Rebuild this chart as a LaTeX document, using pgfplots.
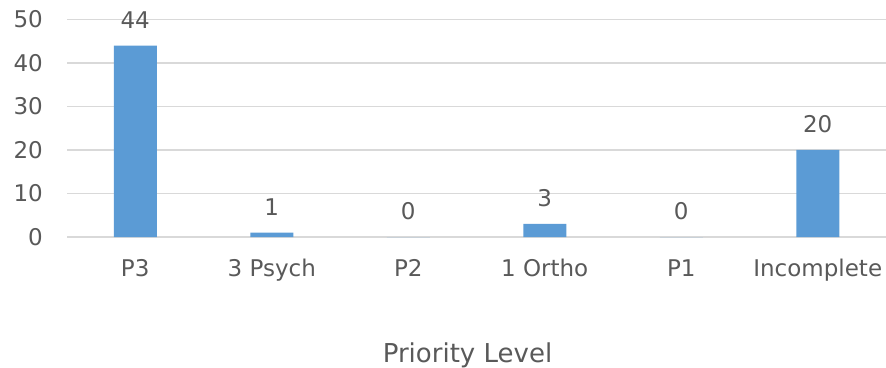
\documentclass[border=0pt]{standalone}
\usepackage{pgfplots}
\pgfplotsset{compat=1.18}
\usepackage{fontspec}
\setmainfont{DejaVu Sans}
\definecolor{barblue}{HTML}{5B9BD5}
\definecolor{gridgray}{HTML}{D9D9D9}
\definecolor{textgray}{HTML}{595959}
\begin{document}
\begin{tikzpicture}
\path[use as bounding box] (0,0) rectangle (886pt,367pt);
\begin{axis}[
  at={(67pt,130pt)}, anchor=south west,
  scale only axis, width=819pt, height=217.5pt,
  ybar, bar width=43pt,
  xmin=-0.5, xmax=5.5, ymin=0, ymax=50,
  xtick=data,
  xticklabels={P3,3 Psych,P2,1 Ortho,P1,Incomplete},
  ytick={0,10,...,50},
  ymajorgrids,
  grid style={gridgray, line width=1.3pt},
  axis line style={draw=none},
  tick style={draw=none},
  /pgf/number format/assume math mode=true,
  ticklabel style={font=\fontsize{23}{26}\selectfont, text=textgray},
  xticklabel style={anchor=base, yshift=-35pt},
  yticklabel style={anchor=east, inner sep=0pt, xshift=-24pt},
  nodes near coords,
  nodes near coords style={font=\fontsize{23}{26}\selectfont, text=textgray,
    anchor=base, inner sep=0pt, yshift=17pt},
  xlabel={Priority Level},
  xlabel style={font=\fontsize{26}{30}\selectfont, text=textgray,
    anchor=base, at={(axis description cs:0.5,0)}, yshift=-125pt, xshift=-9pt},
]
\addplot[fill=barblue, draw=none] coordinates {
  (0,44) (1,1) (2,0) (3,3) (4,0) (5,20)
};
\end{axis}
\end{tikzpicture}
\end{document}
